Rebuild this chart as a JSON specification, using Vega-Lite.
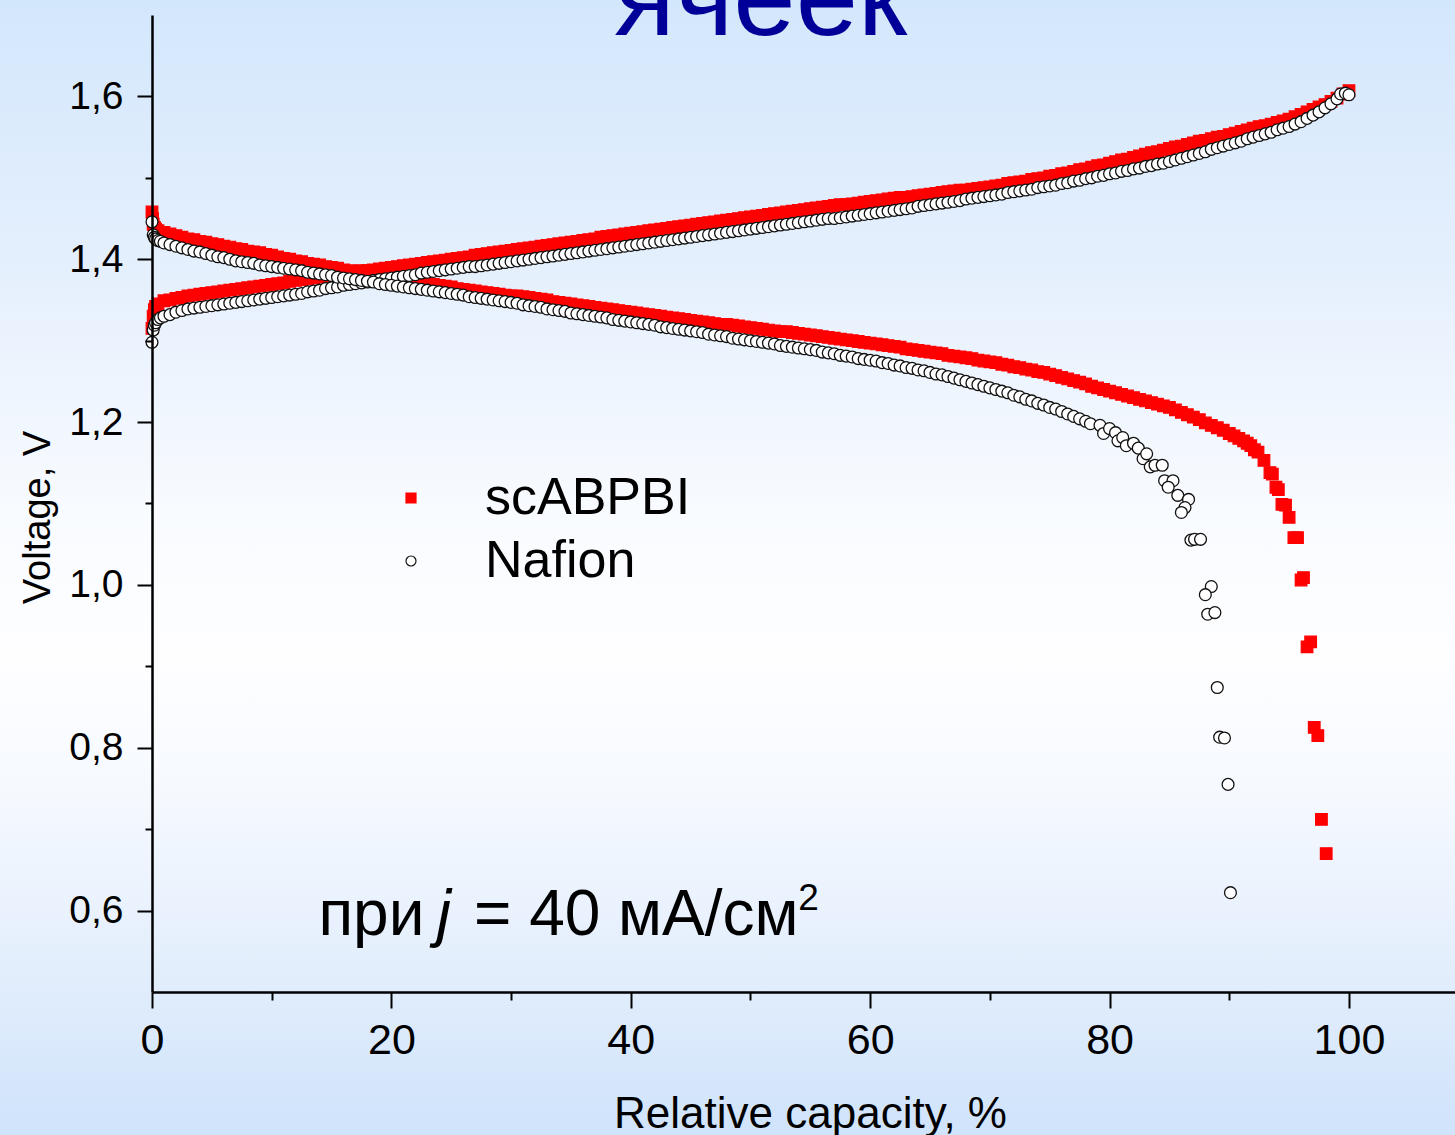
{
"$schema":"https://vega.github.io/schema/vega-lite/v6.json",
"width":1303,"height":977,
"autosize":"none",
"padding":{"left":152,"top":15,"right":0,"bottom":143},
"background":"#e8f1fc",
"datasets":{
"red":[
{"x":0,"y":1.315},{"x":0.1,"y":1.33},{"x":0.2,"y":1.338},{"x":0.3,"y":1.342},{"x":0.5,"y":1.345},{"x":1,"y":1.349},{"x":1.5,"y":1.35},{"x":2,"y":1.352},{"x":2.5,"y":1.353},{"x":3,"y":1.355},{"x":3.5,"y":1.356},{"x":4,"y":1.357},{"x":4.5,"y":1.358},{"x":5,"y":1.359},{"x":5.5,"y":1.36},{"x":6,"y":1.361},{"x":6.5,"y":1.362},{"x":7,"y":1.363},{"x":7.5,"y":1.364},{"x":8,"y":1.365},{"x":8.5,"y":1.366},{"x":9,"y":1.367},{"x":9.5,"y":1.368},{"x":10,"y":1.369},{"x":10.5,"y":1.37},{"x":11,"y":1.371},{"x":11.5,"y":1.373},{"x":12,"y":1.374},{"x":12.5,"y":1.375},{"x":13,"y":1.376},{"x":13.5,"y":1.377},{"x":14,"y":1.378},{"x":14.5,"y":1.379},{"x":15,"y":1.38},{"x":15.5,"y":1.382},{"x":16,"y":1.383},{"x":16.5,"y":1.384},{"x":17,"y":1.385},{"x":17.5,"y":1.386},{"x":18,"y":1.386},{"x":18.5,"y":1.387},{"x":19,"y":1.388},{"x":19.5,"y":1.389},{"x":20,"y":1.39},
{"x":20.5,"y":1.391},{"x":21,"y":1.392},{"x":21.5,"y":1.393},{"x":22,"y":1.394},{"x":22.5,"y":1.395},{"x":23,"y":1.396},{"x":23.5,"y":1.397},{"x":24,"y":1.398},{"x":24.5,"y":1.399},{"x":25,"y":1.4},{"x":25.5,"y":1.401},{"x":26,"y":1.402},{"x":26.5,"y":1.403},{"x":27,"y":1.405},{"x":27.5,"y":1.406},{"x":28,"y":1.407},{"x":28.5,"y":1.408},{"x":29,"y":1.409},{"x":29.5,"y":1.41},{"x":30,"y":1.411},{"x":30.5,"y":1.412},{"x":31,"y":1.413},{"x":31.5,"y":1.414},{"x":32,"y":1.415},{"x":32.5,"y":1.416},{"x":33,"y":1.417},{"x":33.5,"y":1.418},{"x":34,"y":1.419},{"x":34.5,"y":1.42},{"x":35,"y":1.421},{"x":35.5,"y":1.422},{"x":36,"y":1.423},{"x":36.5,"y":1.424},{"x":37,"y":1.425},{"x":37.5,"y":1.427},{"x":38,"y":1.428},{"x":38.5,"y":1.429},{"x":39,"y":1.43},{"x":39.5,"y":1.431},{"x":40,"y":1.432},
{"x":40.5,"y":1.433},{"x":41,"y":1.434},{"x":41.5,"y":1.435},{"x":42,"y":1.436},{"x":42.5,"y":1.437},{"x":43,"y":1.438},{"x":43.5,"y":1.439},{"x":44,"y":1.44},{"x":44.5,"y":1.441},{"x":45,"y":1.442},{"x":45.5,"y":1.443},{"x":46,"y":1.444},{"x":46.5,"y":1.445},{"x":47,"y":1.446},{"x":47.5,"y":1.447},{"x":48,"y":1.448},{"x":48.5,"y":1.449},{"x":49,"y":1.45},{"x":49.5,"y":1.451},{"x":50,"y":1.452},{"x":50.5,"y":1.453},{"x":51,"y":1.454},{"x":51.5,"y":1.455},{"x":52,"y":1.456},{"x":52.5,"y":1.457},{"x":53,"y":1.458},{"x":53.5,"y":1.459},{"x":54,"y":1.46},{"x":54.5,"y":1.461},{"x":55,"y":1.462},{"x":55.5,"y":1.463},{"x":56,"y":1.464},{"x":56.5,"y":1.465},{"x":57,"y":1.466},{"x":57.5,"y":1.467},{"x":58,"y":1.467},{"x":58.5,"y":1.468},{"x":59,"y":1.469},{"x":59.5,"y":1.47},{"x":60,"y":1.471},
{"x":60.5,"y":1.472},{"x":61,"y":1.473},{"x":61.5,"y":1.474},{"x":62,"y":1.475},{"x":62.5,"y":1.476},{"x":63,"y":1.476},{"x":63.5,"y":1.477},{"x":64,"y":1.478},{"x":64.5,"y":1.479},{"x":65,"y":1.48},{"x":65.5,"y":1.481},{"x":66,"y":1.482},{"x":66.5,"y":1.483},{"x":67,"y":1.484},{"x":67.5,"y":1.485},{"x":68,"y":1.485},{"x":68.5,"y":1.486},{"x":69,"y":1.487},{"x":69.5,"y":1.488},{"x":70,"y":1.489},{"x":70.5,"y":1.49},{"x":71,"y":1.491},{"x":71.5,"y":1.493},{"x":72,"y":1.494},{"x":72.5,"y":1.495},{"x":73,"y":1.496},{"x":73.5,"y":1.498},{"x":74,"y":1.499},{"x":74.5,"y":1.5},{"x":75,"y":1.502},{"x":75.5,"y":1.503},{"x":76,"y":1.505},{"x":76.5,"y":1.506},{"x":77,"y":1.508},{"x":77.5,"y":1.51},{"x":78,"y":1.511},{"x":78.5,"y":1.513},{"x":79,"y":1.515},{"x":79.5,"y":1.516},{"x":80,"y":1.518},
{"x":80.5,"y":1.52},{"x":81,"y":1.522},{"x":81.5,"y":1.523},{"x":82,"y":1.525},{"x":82.5,"y":1.527},{"x":83,"y":1.529},{"x":83.5,"y":1.531},{"x":84,"y":1.532},{"x":84.5,"y":1.534},{"x":85,"y":1.536},{"x":85.5,"y":1.538},{"x":86,"y":1.539},{"x":86.5,"y":1.541},{"x":87,"y":1.543},{"x":87.5,"y":1.545},{"x":88,"y":1.546},{"x":88.5,"y":1.548},{"x":89,"y":1.55},{"x":89.5,"y":1.551},{"x":90,"y":1.553},{"x":90.5,"y":1.555},{"x":91,"y":1.557},{"x":91.5,"y":1.559},{"x":92,"y":1.561},{"x":92.5,"y":1.563},{"x":93,"y":1.564},{"x":93.5,"y":1.566},{"x":94,"y":1.568},{"x":94.5,"y":1.57},{"x":95,"y":1.572},{"x":95.5,"y":1.575},{"x":96,"y":1.578},{"x":96.5,"y":1.581},{"x":97,"y":1.584},{"x":97.5,"y":1.587},{"x":98,"y":1.59},{"x":98.5,"y":1.594},{"x":99,"y":1.598},{"x":99.5,"y":1.603},{"x":100,"y":1.607},
{"x":0,"y":1.458},{"x":0.05,"y":1.45},{"x":0.1,"y":1.443},{"x":0.2,"y":1.439},{"x":0.3,"y":1.437},{"x":0.5,"y":1.435},{"x":1,"y":1.433},{"x":1.5,"y":1.431},{"x":2,"y":1.429},{"x":2.5,"y":1.427},{"x":3,"y":1.425},{"x":3.5,"y":1.424},{"x":4,"y":1.422},{"x":4.5,"y":1.421},{"x":5,"y":1.419},{"x":5.5,"y":1.418},{"x":6,"y":1.416},{"x":6.5,"y":1.415},{"x":7,"y":1.413},{"x":7.5,"y":1.412},{"x":8,"y":1.41},{"x":8.5,"y":1.409},{"x":9,"y":1.408},{"x":9.5,"y":1.406},{"x":10,"y":1.405},{"x":10.5,"y":1.403},{"x":11,"y":1.401},{"x":11.5,"y":1.4},{"x":12,"y":1.398},{"x":12.5,"y":1.397},{"x":13,"y":1.395},{"x":13.5,"y":1.394},{"x":14,"y":1.393},{"x":14.5,"y":1.391},{"x":15,"y":1.39},{"x":15.5,"y":1.389},{"x":16,"y":1.387},{"x":16.5,"y":1.386},{"x":17,"y":1.385},{"x":17.5,"y":1.383},{"x":18,"y":1.382},{"x":18.5,"y":1.381},{"x":19,"y":1.379},{"x":19.5,"y":1.378},{"x":20,"y":1.377},
{"x":20.5,"y":1.376},{"x":21,"y":1.375},{"x":21.5,"y":1.373},{"x":22,"y":1.372},{"x":22.5,"y":1.371},{"x":23,"y":1.37},{"x":23.5,"y":1.369},{"x":24,"y":1.368},{"x":24.5,"y":1.367},{"x":25,"y":1.366},{"x":25.5,"y":1.364},{"x":26,"y":1.363},{"x":26.5,"y":1.362},{"x":27,"y":1.361},{"x":27.5,"y":1.36},{"x":28,"y":1.359},{"x":28.5,"y":1.358},{"x":29,"y":1.357},{"x":29.5,"y":1.356},{"x":30,"y":1.355},{"x":30.5,"y":1.355},{"x":31,"y":1.354},{"x":31.5,"y":1.353},{"x":32,"y":1.352},{"x":32.5,"y":1.351},{"x":33,"y":1.35},{"x":33.5,"y":1.348},{"x":34,"y":1.347},{"x":34.5,"y":1.346},{"x":35,"y":1.345},{"x":35.5,"y":1.344},{"x":36,"y":1.343},{"x":36.5,"y":1.342},{"x":37,"y":1.341},{"x":37.5,"y":1.34},{"x":38,"y":1.339},{"x":38.5,"y":1.338},{"x":39,"y":1.337},{"x":39.5,"y":1.336},{"x":40,"y":1.335},
{"x":40.5,"y":1.334},{"x":41,"y":1.333},{"x":41.5,"y":1.332},{"x":42,"y":1.331},{"x":42.5,"y":1.33},{"x":43,"y":1.329},{"x":43.5,"y":1.328},{"x":44,"y":1.327},{"x":44.5,"y":1.326},{"x":45,"y":1.325},{"x":45.5,"y":1.324},{"x":46,"y":1.323},{"x":46.5,"y":1.322},{"x":47,"y":1.321},{"x":47.5,"y":1.32},{"x":48,"y":1.32},{"x":48.5,"y":1.319},{"x":49,"y":1.318},{"x":49.5,"y":1.317},{"x":50,"y":1.316},{"x":50.5,"y":1.315},{"x":51,"y":1.314},{"x":51.5,"y":1.313},{"x":52,"y":1.312},{"x":52.5,"y":1.311},{"x":53,"y":1.311},{"x":53.5,"y":1.31},{"x":54,"y":1.309},{"x":54.5,"y":1.308},{"x":55,"y":1.307},{"x":55.5,"y":1.306},{"x":56,"y":1.305},{"x":56.5,"y":1.304},{"x":57,"y":1.303},{"x":57.5,"y":1.302},{"x":58,"y":1.301},{"x":58.5,"y":1.3},{"x":59,"y":1.299},{"x":59.5,"y":1.298},{"x":60,"y":1.297},
{"x":60.5,"y":1.296},{"x":61,"y":1.295},{"x":61.5,"y":1.294},{"x":62,"y":1.293},{"x":62.5,"y":1.292},{"x":63,"y":1.29},{"x":63.5,"y":1.289},{"x":64,"y":1.288},{"x":64.5,"y":1.287},{"x":65,"y":1.286},{"x":65.5,"y":1.285},{"x":66,"y":1.284},{"x":66.5,"y":1.282},{"x":67,"y":1.281},{"x":67.5,"y":1.28},{"x":68,"y":1.279},{"x":68.5,"y":1.278},{"x":69,"y":1.276},{"x":69.5,"y":1.275},{"x":70,"y":1.274},{"x":70.5,"y":1.273},{"x":71,"y":1.271},{"x":71.5,"y":1.27},{"x":72,"y":1.268},{"x":72.5,"y":1.267},{"x":73,"y":1.265},{"x":73.5,"y":1.264},{"x":74,"y":1.262},{"x":74.5,"y":1.261},{"x":75,"y":1.259},{"x":75.5,"y":1.257},{"x":76,"y":1.255},{"x":76.5,"y":1.253},{"x":77,"y":1.251},{"x":77.5,"y":1.249},{"x":78,"y":1.247},{"x":78.5,"y":1.244},{"x":79,"y":1.242},{"x":79.5,"y":1.24},{"x":80,"y":1.238},
{"x":80.5,"y":1.236},{"x":81,"y":1.234},{"x":81.5,"y":1.232},{"x":82,"y":1.23},{"x":82.5,"y":1.228},{"x":83,"y":1.226},{"x":83.5,"y":1.224},{"x":84,"y":1.222},{"x":84.5,"y":1.22},{"x":85,"y":1.218},{"x":85.5,"y":1.215},{"x":86,"y":1.212},{"x":86.5,"y":1.209},{"x":87,"y":1.206},{"x":87.5,"y":1.203},{"x":88,"y":1.199},{"x":88.5,"y":1.196},{"x":89,"y":1.193},{"x":89.5,"y":1.19},{"x":90,"y":1.186},{"x":90.4,"y":1.183},{"x":90.8,"y":1.18},{"x":91.2,"y":1.177},{"x":91.5,"y":1.174},{"x":91.8,"y":1.171},
{"x":92.1,"y":1.166},{"x":92.4,"y":1.163},{"x":92.9,"y":1.153},{"x":93.4,"y":1.138},{"x":93.6,"y":1.136},{"x":93.9,"y":1.12},{"x":94.1,"y":1.117},{"x":94.4,"y":1.099},{"x":94.7,"y":1.098},{"x":95,"y":1.083},{"x":95.4,"y":1.058},{"x":95.7,"y":1.058},{"x":96,"y":1.006},{"x":96.2,"y":1.009},{"x":96.5,"y":0.924},{"x":96.8,"y":0.93},{"x":97.1,"y":0.825},{"x":97.4,"y":0.815},{"x":97.7,"y":0.712},{"x":98.1,"y":0.67}
],
"naf":[
{"x":0,"y":1.298},{"x":0.1,"y":1.313},{"x":0.2,"y":1.319},{"x":0.3,"y":1.322},{"x":0.5,"y":1.326},{"x":0.7,"y":1.328},{"x":1,"y":1.33},{"x":1.5,"y":1.332},{"x":2,"y":1.335},{"x":2.5,"y":1.337},{"x":3,"y":1.339},{"x":3.5,"y":1.34},{"x":4,"y":1.341},{"x":4.5,"y":1.342},{"x":5,"y":1.343},{"x":5.5,"y":1.344},{"x":6,"y":1.345},{"x":6.5,"y":1.346},{"x":7,"y":1.347},{"x":7.5,"y":1.348},{"x":8,"y":1.349},{"x":8.5,"y":1.35},{"x":9,"y":1.351},{"x":9.5,"y":1.352},{"x":10,"y":1.353},{"x":10.5,"y":1.354},{"x":11,"y":1.355},{"x":11.5,"y":1.356},{"x":12,"y":1.357},{"x":12.5,"y":1.358},{"x":13,"y":1.36},{"x":13.5,"y":1.361},{"x":14,"y":1.362},{"x":14.5,"y":1.364},{"x":15,"y":1.365},{"x":15.5,"y":1.366},{"x":16,"y":1.368},{"x":16.5,"y":1.369},{"x":17,"y":1.37},{"x":17.5,"y":1.371},{"x":18,"y":1.372},{"x":18.5,"y":1.374},{"x":19,"y":1.375},{"x":19.5,"y":1.376},{"x":20,"y":1.377},
{"x":20.5,"y":1.378},{"x":21,"y":1.379},{"x":21.5,"y":1.38},{"x":22,"y":1.381},{"x":22.5,"y":1.383},{"x":23,"y":1.384},{"x":23.5,"y":1.385},{"x":24,"y":1.386},{"x":24.5,"y":1.387},{"x":25,"y":1.388},{"x":25.5,"y":1.389},{"x":26,"y":1.39},{"x":26.5,"y":1.391},{"x":27,"y":1.391},{"x":27.5,"y":1.392},{"x":28,"y":1.393},{"x":28.5,"y":1.394},{"x":29,"y":1.395},{"x":29.5,"y":1.396},{"x":30,"y":1.397},{"x":30.5,"y":1.398},{"x":31,"y":1.399},{"x":31.5,"y":1.4},{"x":32,"y":1.401},{"x":32.5,"y":1.402},{"x":33,"y":1.403},{"x":33.5,"y":1.404},{"x":34,"y":1.405},{"x":34.5,"y":1.406},{"x":35,"y":1.407},{"x":35.5,"y":1.408},{"x":36,"y":1.409},{"x":36.5,"y":1.41},{"x":37,"y":1.411},{"x":37.5,"y":1.412},{"x":38,"y":1.413},{"x":38.5,"y":1.414},{"x":39,"y":1.415},{"x":39.5,"y":1.416},{"x":40,"y":1.417},
{"x":40.5,"y":1.418},{"x":41,"y":1.419},{"x":41.5,"y":1.42},{"x":42,"y":1.421},{"x":42.5,"y":1.422},{"x":43,"y":1.423},{"x":43.5,"y":1.424},{"x":44,"y":1.425},{"x":44.5,"y":1.426},{"x":45,"y":1.427},{"x":45.5,"y":1.428},{"x":46,"y":1.429},{"x":46.5,"y":1.43},{"x":47,"y":1.431},{"x":47.5,"y":1.432},{"x":48,"y":1.433},{"x":48.5,"y":1.434},{"x":49,"y":1.435},{"x":49.5,"y":1.436},{"x":50,"y":1.437},{"x":50.5,"y":1.438},{"x":51,"y":1.439},{"x":51.5,"y":1.44},{"x":52,"y":1.441},{"x":52.5,"y":1.442},{"x":53,"y":1.443},{"x":53.5,"y":1.444},{"x":54,"y":1.445},{"x":54.5,"y":1.446},{"x":55,"y":1.447},{"x":55.5,"y":1.448},{"x":56,"y":1.449},{"x":56.5,"y":1.45},{"x":57,"y":1.45},{"x":57.5,"y":1.451},{"x":58,"y":1.452},{"x":58.5,"y":1.453},{"x":59,"y":1.454},{"x":59.5,"y":1.455},{"x":60,"y":1.456},
{"x":60.5,"y":1.457},{"x":61,"y":1.458},{"x":61.5,"y":1.459},{"x":62,"y":1.46},{"x":62.5,"y":1.461},{"x":63,"y":1.462},{"x":63.5,"y":1.463},{"x":64,"y":1.465},{"x":64.5,"y":1.466},{"x":65,"y":1.467},{"x":65.5,"y":1.468},{"x":66,"y":1.469},{"x":66.5,"y":1.47},{"x":67,"y":1.471},{"x":67.5,"y":1.472},{"x":68,"y":1.474},{"x":68.5,"y":1.475},{"x":69,"y":1.476},{"x":69.5,"y":1.477},{"x":70,"y":1.478},{"x":70.5,"y":1.479},{"x":71,"y":1.48},{"x":71.5,"y":1.482},{"x":72,"y":1.483},{"x":72.5,"y":1.484},{"x":73,"y":1.485},{"x":73.5,"y":1.486},{"x":74,"y":1.488},{"x":74.5,"y":1.489},{"x":75,"y":1.49},{"x":75.5,"y":1.491},{"x":76,"y":1.493},{"x":76.5,"y":1.494},{"x":77,"y":1.496},{"x":77.5,"y":1.497},{"x":78,"y":1.499},{"x":78.5,"y":1.5},{"x":79,"y":1.502},{"x":79.5,"y":1.503},{"x":80,"y":1.505},
{"x":80.5,"y":1.506},{"x":81,"y":1.508},{"x":81.5,"y":1.509},{"x":82,"y":1.511},{"x":82.5,"y":1.512},{"x":83,"y":1.514},{"x":83.5,"y":1.515},{"x":84,"y":1.517},{"x":84.5,"y":1.518},{"x":85,"y":1.52},{"x":85.5,"y":1.522},{"x":86,"y":1.524},{"x":86.5,"y":1.526},{"x":87,"y":1.528},{"x":87.5,"y":1.53},{"x":88,"y":1.532},{"x":88.5,"y":1.535},{"x":89,"y":1.537},{"x":89.5,"y":1.539},{"x":90,"y":1.541},{"x":90.5,"y":1.543},{"x":91,"y":1.545},{"x":91.5,"y":1.548},{"x":92,"y":1.55},{"x":92.5,"y":1.552},{"x":93,"y":1.554},{"x":93.5,"y":1.556},{"x":94,"y":1.559},{"x":94.5,"y":1.561},{"x":95,"y":1.563},{"x":95.5,"y":1.566},{"x":96,"y":1.569},{"x":96.5,"y":1.573},{"x":97,"y":1.577},{"x":97.5,"y":1.581},{"x":98,"y":1.586},{"x":98.5,"y":1.591},{"x":99,"y":1.597},{"x":99.3,"y":1.603},{"x":99.7,"y":1.604},{"x":100,"y":1.602},
{"x":0,"y":1.446},{"x":0.1,"y":1.43},{"x":0.2,"y":1.427},{"x":0.3,"y":1.425},{"x":0.5,"y":1.423},{"x":0.7,"y":1.422},{"x":1,"y":1.42},{"x":1.5,"y":1.418},{"x":2,"y":1.416},{"x":2.5,"y":1.414},{"x":3,"y":1.412},{"x":3.5,"y":1.41},{"x":4,"y":1.409},{"x":4.5,"y":1.407},{"x":5,"y":1.405},{"x":5.5,"y":1.403},{"x":6,"y":1.402},{"x":6.5,"y":1.4},{"x":7,"y":1.398},{"x":7.5,"y":1.397},{"x":8,"y":1.396},{"x":8.5,"y":1.395},{"x":9,"y":1.393},{"x":9.5,"y":1.392},{"x":10,"y":1.391},{"x":10.5,"y":1.39},{"x":11,"y":1.389},{"x":11.5,"y":1.388},{"x":12,"y":1.387},{"x":12.5,"y":1.386},{"x":13,"y":1.384},{"x":13.5,"y":1.383},{"x":14,"y":1.382},{"x":14.5,"y":1.381},{"x":15,"y":1.38},{"x":15.5,"y":1.378},{"x":16,"y":1.377},{"x":16.5,"y":1.376},{"x":17,"y":1.375},{"x":17.5,"y":1.374},{"x":18,"y":1.373},{"x":18.5,"y":1.372},{"x":19,"y":1.37},{"x":19.5,"y":1.369},{"x":20,"y":1.368},
{"x":20.5,"y":1.367},{"x":21,"y":1.366},{"x":21.5,"y":1.365},{"x":22,"y":1.364},{"x":22.5,"y":1.363},{"x":23,"y":1.362},{"x":23.5,"y":1.361},{"x":24,"y":1.36},{"x":24.5,"y":1.359},{"x":25,"y":1.358},{"x":25.5,"y":1.357},{"x":26,"y":1.356},{"x":26.5,"y":1.354},{"x":27,"y":1.353},{"x":27.5,"y":1.352},{"x":28,"y":1.351},{"x":28.5,"y":1.35},{"x":29,"y":1.349},{"x":29.5,"y":1.348},{"x":30,"y":1.347},{"x":30.5,"y":1.346},{"x":31,"y":1.344},{"x":31.5,"y":1.343},{"x":32,"y":1.342},{"x":32.5,"y":1.341},{"x":33,"y":1.339},{"x":33.5,"y":1.338},{"x":34,"y":1.337},{"x":34.5,"y":1.336},{"x":35,"y":1.334},{"x":35.5,"y":1.333},{"x":36,"y":1.332},{"x":36.5,"y":1.331},{"x":37,"y":1.33},{"x":37.5,"y":1.329},{"x":38,"y":1.328},{"x":38.5,"y":1.326},{"x":39,"y":1.325},{"x":39.5,"y":1.324},{"x":40,"y":1.323},
{"x":40.5,"y":1.322},{"x":41,"y":1.321},{"x":41.5,"y":1.32},{"x":42,"y":1.319},{"x":42.5,"y":1.317},{"x":43,"y":1.316},{"x":43.5,"y":1.315},{"x":44,"y":1.314},{"x":44.5,"y":1.313},{"x":45,"y":1.312},{"x":45.5,"y":1.311},{"x":46,"y":1.31},{"x":46.5,"y":1.308},{"x":47,"y":1.307},{"x":47.5,"y":1.306},{"x":48,"y":1.305},{"x":48.5,"y":1.303},{"x":49,"y":1.302},{"x":49.5,"y":1.301},{"x":50,"y":1.3},{"x":50.5,"y":1.299},{"x":51,"y":1.298},{"x":51.5,"y":1.297},{"x":52,"y":1.296},{"x":52.5,"y":1.294},{"x":53,"y":1.293},{"x":53.5,"y":1.292},{"x":54,"y":1.291},{"x":54.5,"y":1.29},{"x":55,"y":1.289},{"x":55.5,"y":1.288},{"x":56,"y":1.286},{"x":56.5,"y":1.285},{"x":57,"y":1.284},{"x":57.5,"y":1.282},{"x":58,"y":1.281},{"x":58.5,"y":1.28},{"x":59,"y":1.278},{"x":59.5,"y":1.277},{"x":60,"y":1.276},
{"x":60.5,"y":1.275},{"x":61,"y":1.273},{"x":61.5,"y":1.272},{"x":62,"y":1.27},{"x":62.5,"y":1.269},{"x":63,"y":1.267},{"x":63.5,"y":1.266},{"x":64,"y":1.264},{"x":64.5,"y":1.263},{"x":65,"y":1.261},{"x":65.5,"y":1.259},{"x":66,"y":1.258},{"x":66.5,"y":1.256},{"x":67,"y":1.254},{"x":67.5,"y":1.252},{"x":68,"y":1.25},{"x":68.5,"y":1.248},{"x":69,"y":1.246},{"x":69.5,"y":1.244},{"x":70,"y":1.242},{"x":70.5,"y":1.24},{"x":71,"y":1.238},{"x":71.5,"y":1.236},{"x":72,"y":1.233},{"x":72.5,"y":1.231},{"x":73,"y":1.228},{"x":73.5,"y":1.226},{"x":74,"y":1.223},{"x":74.5,"y":1.221},{"x":75,"y":1.218},{"x":75.5,"y":1.216},{"x":76,"y":1.213},{"x":76.5,"y":1.21},{"x":77,"y":1.207},{"x":77.5,"y":1.204},{"x":78,"y":1.201},
{"x":78.4,"y":1.198},{"x":79.2,"y":1.196},{"x":79.5,"y":1.186},{"x":80,"y":1.192},{"x":80.5,"y":1.187},{"x":80.7,"y":1.177},{"x":81.1,"y":1.181},{"x":81.4,"y":1.171},{"x":82,"y":1.174},{"x":82.4,"y":1.168},{"x":82.8,"y":1.155},{"x":83.1,"y":1.161},{"x":83.4,"y":1.145},{"x":83.8,"y":1.147},{"x":84.4,"y":1.147},{"x":84.6,"y":1.128},{"x":85.3,"y":1.128},{"x":84.9,"y":1.12},{"x":85.7,"y":1.11},{"x":86.6,"y":1.105},{"x":86.3,"y":1.095},{"x":86,"y":1.089},{"x":86.8,"y":1.055},{"x":87.1,"y":1.056},{"x":87.6,"y":1.056},{"x":88.5,"y":0.998},{"x":88,"y":0.988},{"x":88.2,"y":0.964},{"x":88.8,"y":0.966},{"x":89,"y":0.874},{"x":89.2,"y":0.813},{"x":89.6,"y":0.812},{"x":89.9,"y":0.755},{"x":90.1,"y":0.622}
]
},
"layer":[
{"data":{"values":[{}]},
 "mark":{"type":"rect","fill":{"gradient":"linear","x1":0,"y1":0,"x2":0,"y2":1,"stops":[{"offset":0,"color":"#d3e7fc"},{"offset":0.25,"color":"#e6f0fd"},{"offset":0.45,"color":"#f8fbff"},{"offset":0.58,"color":"#fefeff"},{"offset":0.7,"color":"#f5f9ff"},{"offset":0.85,"color":"#e3eefc"},{"offset":1,"color":"#cfe3fb"}]}},
 "encoding":{"x":{"datum":-12.8,"type":"quantitative"},"x2":{"datum":108.9},"y":{"datum":1.72,"type":"quantitative"},"y2":{"datum":0.32}}},
{"data":{"values":[{}]},
 "mark":{"type":"text","align":"center","baseline":"alphabetic","fontSize":112,"font":"Liberation Sans","color":"#000099"},
 "encoding":{"x":{"datum":50.85,"type":"quantitative"},"y":{"datum":1.6754,"type":"quantitative"},"text":{"value":"ячеек"}}},
{"data":{"name":"red"},
 "mark":{"type":"point","filled":true,"size":135,"strokeWidth":1.2,"opacity":1},
 "encoding":{
  "x":{"field":"x","type":"quantitative","scale":{"domain":[0,108.86],"nice":false,"zero":false},
   "axis":{"values":[0,10,20,30,40,50,60,70,80,90,100],"labelExpr":"datum.value % 20 === 0 ? datum.label : ''","tickSize":{"condition":{"test":"datum.value % 20 === 0","value":16},"value":8},"labelFontSize":43,"labelFont":"Liberation Sans","labelColor":"black","labelPadding":11,"domainColor":"black","domainWidth":2.5,"tickColor":"black","tickWidth":2,"grid":false,"labelFlush":false,"labelOverlap":false,"zindex":1,
   "title":"Relative capacity, %","titleFont":"Liberation Sans","titleFontSize":44,"titleFontWeight":"normal","titleColor":"black","titleX":658,"titleY":135,"titleBaseline":"alphabetic","titleAlign":"center"}},
  "y":{"field":"y","type":"quantitative","scale":{"domain":[0.5,1.7],"nice":false,"zero":false},
   "axis":{"values":[0.6,0.7,0.8,0.9,1.0,1.1,1.2,1.3,1.4,1.5,1.6],"labelExpr":"round(datum.value*10) % 2 === 0 ? replace(format(datum.value,'.1f'),'.',',') : ''","tickSize":{"condition":{"test":"round(datum.value*10) % 2 === 0","value":15},"value":7},"labelFontSize":39,"labelFont":"Liberation Sans","labelColor":"black","labelPadding":14,"domainColor":"black","domainWidth":2.5,"tickColor":"black","tickWidth":2,"grid":false,"labelFlush":false,"labelOverlap":false,"zindex":1,
   "title":"Voltage, V","titleFont":"Liberation Sans","titleFontSize":38,"titleFontWeight":"normal","titleColor":"black","titleX":-103,"titleY":502,"titleAngle":270,"titleBaseline":"alphabetic","titleAlign":"center"}},
  "fill":{"datum":"scABPBI","scale":{"domain":["scABPBI","Nafion"],"range":["#ff0000","#ffffff"]},"legend":{"title":null}},
  "stroke":{"datum":"scABPBI","scale":{"domain":["scABPBI","Nafion"],"range":["#ff0000","#111111"]},"legend":{"title":null}},
  "shape":{"datum":"scABPBI","scale":{"domain":["scABPBI","Nafion"],"range":["square","circle"]},"legend":{"title":null}}
 }},
{"data":{"name":"naf"},
 "mark":{"type":"point","filled":true,"size":140,"strokeWidth":1.3,"opacity":1},
 "encoding":{
  "x":{"field":"x","type":"quantitative"},
  "y":{"field":"y","type":"quantitative"},
  "fill":{"datum":"Nafion"},
  "stroke":{"datum":"Nafion"},
  "shape":{"datum":"Nafion"}
 }},
{"data":{"values":[{}]},
 "mark":{"type":"text","align":"left","baseline":"alphabetic","fontSize":64,"font":"Liberation Sans","color":"black"},
 "encoding":{"x":{"datum":13.9,"type":"quantitative"},"y":{"datum":0.5705,"type":"quantitative"},"text":{"value":"при"}}},
{"data":{"values":[{}]},
 "mark":{"type":"text","align":"left","baseline":"alphabetic","fontSize":64,"font":"Liberation Sans","fontStyle":"italic","color":"black"},
 "encoding":{"x":{"datum":23.8,"type":"quantitative"},"y":{"datum":0.5705,"type":"quantitative"},"text":{"value":"j"}}},
{"data":{"values":[{}]},
 "mark":{"type":"text","align":"left","baseline":"alphabetic","fontSize":64,"font":"Liberation Sans","color":"black"},
 "encoding":{"x":{"datum":26.9,"type":"quantitative"},"y":{"datum":0.5705,"type":"quantitative"},"text":{"value":"= 40 мА/см"}}},
{"data":{"values":[{}]},
 "mark":{"type":"text","align":"left","baseline":"alphabetic","fontSize":37,"font":"Liberation Sans","color":"black"},
 "encoding":{"x":{"datum":54.0,"type":"quantitative"},"y":{"datum":0.6012,"type":"quantitative"},"text":{"value":"2"}}}
],
"config":{"view":{"stroke":null},"font":"Liberation Sans",
 "legend":{"orient":"none","legendX":233,"legendY":457,"labelFontSize":52,"labelFont":"Liberation Sans","labelColor":"black","symbolSize":100,"symbolStrokeWidth":1.2,"labelOffset":48,"rowPadding":11,"padding":0,"labelLimit":600}}
}
